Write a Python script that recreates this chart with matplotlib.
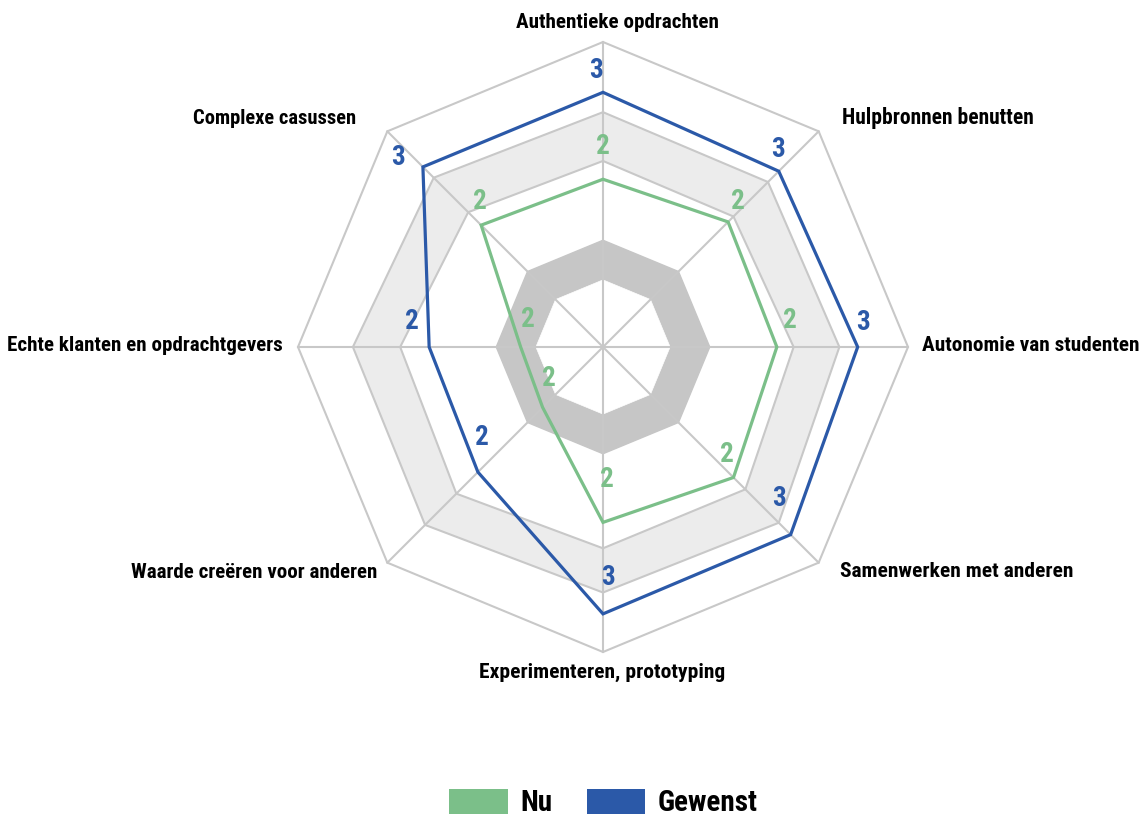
import numpy as np
import matplotlib
matplotlib.use("Agg")
import matplotlib.pyplot as plt
import matplotlib.font_manager as fm
from matplotlib.patches import Polygon, Patch

# data (scale 1..3, centre of the web = 1)
categories = [
    "Authentieke opdrachten", "Hulpbronnen benutten", "Autonomie van studenten",
    "Samenwerken met anderen", "Experimenteren, prototyping",
    "Waarde creëren voor anderen", "Echte klanten en opdrachtgevers",
    "Complexe casussen",
]
nu = [2.10, 2.16, 2.14, 2.21, 2.15, 1.56, 1.54, 2.13]
gewenst = [2.67, 2.63, 2.67, 2.74, 2.75, 2.16, 2.14, 2.67]
band_light_outer = [2.54, 2.53, 2.55, 2.63, 2.61, 2.65, 2.64, 2.57]
band_light_inner = [2.22, 2.21, 2.25, 2.32, 2.32, 2.36, 2.33, 2.25]
band_dark_outer = [1.70] * 8
band_dark_inner = [1.44] * 8

VMIN, VMAX = 1.0, 3.0
GREEN = "#7bbf89"
BLUE = "#2b59a8"
GRID = "#c8c8c8"


# smal lettertype zoeken (referentie gebruikt een condensed font)
def pick_font():
    fonts = fm.fontManager.ttflist
    for name in ["Liberation Sans Narrow", "Roboto Condensed", "Open Sans Condensed",
                 "Noto Sans Condensed", "DejaVu Sans Condensed"]:
        if any(f.name == name for f in fonts):
            return name, "normal"
    for name in ["Noto Sans", "Open Sans", "DejaVu Sans", "Roboto"]:
        if any(f.name == name and f.stretch not in ("normal", 500) for f in fonts):
            return name, "condensed"
    return "Roboto", "normal"


FONT, STRETCH = pick_font()
plt.rcParams["font.family"] = [FONT, "DejaVu Sans"]
plt.rcParams["font.stretch"] = STRETCH

n = len(categories)
angles = np.pi / 2 - np.arange(n) * 2 * np.pi / n


def to_xy(vals):
    r = (np.asarray(vals, dtype=float) - VMIN) / (VMAX - VMIN)
    return np.column_stack([r * np.cos(angles), r * np.sin(angles)])


W, H = 1148, 817
fig = plt.figure(figsize=(W / 100, H / 100), dpi=100)
ax = fig.add_axes([0, 0, 1, 1])
cx, cy, R = 603, 817 - 347, 305
ax.set_xlim(-cx / R, (W - cx) / R)
ax.set_ylim(-cy / R, (H - cy) / R)
ax.axis("off")

# achtergrondbanden
ax.add_patch(Polygon(to_xy(band_light_outer), closed=True, facecolor="#ececec",
                     edgecolor=GRID, linewidth=1.5, zorder=1))
ax.add_patch(Polygon(to_xy(band_light_inner), closed=True, facecolor="white",
                     edgecolor=GRID, linewidth=1.5, zorder=1))
ax.add_patch(Polygon(to_xy(band_dark_outer), closed=True, facecolor="#c6c6c6",
                     edgecolor="#c6c6c6", linewidth=1, zorder=1))
ax.add_patch(Polygon(to_xy(band_dark_inner), closed=True, facecolor="white",
                     edgecolor="white", linewidth=0.5, zorder=1))

# rooster: buitenrand + spaken
outer = to_xy([VMAX] * n)
ax.add_patch(Polygon(outer, closed=True, fill=False, edgecolor=GRID,
                     linewidth=1.5, zorder=2))
for px, py in outer:
    ax.plot([0, px], [0, py], color=GRID, linewidth=1.5, zorder=2)

# series
for vals, col in [(nu, GREEN), (gewenst, BLUE)]:
    ax.add_patch(Polygon(to_xy(vals), closed=True, fill=False, edgecolor=col,
                         linewidth=2.3, zorder=3, joinstyle="miter"))

# datalabels
green_off = [(0, 33), (10, 20), (13, 27), (-7, 23), (4, 43), (6, 29), (7, 28), (-1, 24)]
blue_off = [(-7, 22), (-1, 22), (5, 25), (-12, 36), (5, 36), (4, 35), (-17, 26), (-25, 9)]
for vals, col, offs in [(nu, GREEN, green_off), (gewenst, BLUE, blue_off)]:
    for (px, py), v, off in zip(to_xy(vals), vals, offs):
        ax.annotate(f"{v:.0f}", (px, py), xytext=off, textcoords="offset pixels",
                    ha="center", va="center", fontsize=19.5, color=col,
                    fontweight="bold", zorder=4)

# categorie-labels
cat_off = [(14, 20, "center"), (23, 13, "left"), (14, 2, "left"), (21, -9, "left"),
           (-1, -20, "center"), (-10, -10, "right"), (-15, 2, "right"),
           (-31, 13, "right")]
cat_width = [203, 194, 218, 233, 245, 247, 275, 163]
cat_texts = []
for (px, py), lab, (dx, dy, ha) in zip(outer, categories, cat_off):
    t = ax.annotate(lab, (px, py), xytext=(dx, dy), textcoords="offset pixels",
                    ha=ha, va="center", fontsize=15, fontweight="bold",
                    color="black")
    cat_texts.append(t)

handles = [Patch(facecolor=GREEN, label="Nu"), Patch(facecolor=BLUE, label="Gewenst")]
leg = fig.legend(handles=handles, loc="center", bbox_to_anchor=(603.5 / W, 14 / H),
                 ncol=2, frameon=False,
                 prop={"weight": "bold", "size": 21, "family": [FONT, "DejaVu Sans"],
                       "stretch": STRETCH},
                 handlelength=2.0, handleheight=0.95, handletextpad=0.42,
                 columnspacing=1.2, borderpad=0)

# lettergrootte afstemmen op de breedte in de referentie
fig.canvas.draw()
rend = fig.canvas.get_renderer()
for t, target in zip(cat_texts, cat_width):
    w = t.get_window_extent(rend).width
    t.set_fontsize(min(15.5, t.get_fontsize() * target / w))

fig.savefig("out.png", dpi=100)
